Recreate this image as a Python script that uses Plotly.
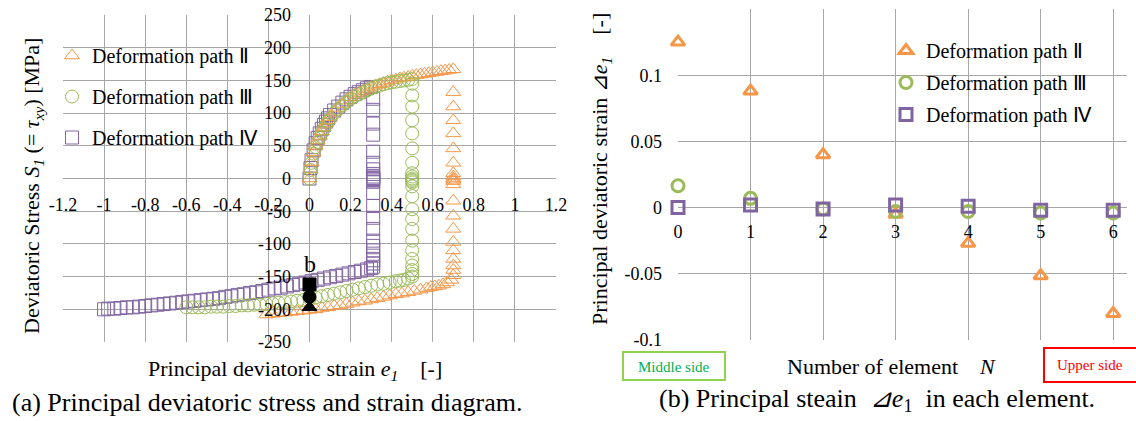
import plotly.graph_objects as go

ORANGE = "#F79646"
GREEN = "#9BBB59"
PURPLE = "#8064A2"
GRID = "#A6A6A6"
FONT = "Liberation Serif"

# ---------------- (a) stress-strain data ----------------
# Deformation path II
load_e2 = [0, 0.005, 0.01, 0.02, 0.03, 0.04, 0.05, 0.06, 0.07, 0.08, 0.09, 0.10, 0.12, 0.14, 0.16,
           0.18, 0.20, 0.22, 0.24, 0.26, 0.28, 0.30, 0.32, 0.34, 0.36, 0.38, 0.40, 0.42, 0.44, 0.46,
           0.48, 0.50, 0.52, 0.54, 0.56, 0.58, 0.60, 0.62, 0.64, 0.66, 0.68, 0.70]
load_s2 = [0, 14, 25, 40, 50, 58, 65, 72, 78, 84, 89, 94, 102, 108, 114,
           119, 124, 128, 131, 134, 137, 140, 142, 144, 146, 148, 150, 151, 153, 154,
           155, 157, 158, 159, 160, 161, 162, 163, 164, 165, 166, 167]
unload_e2 = [0.70] * 21
unload_s2 = [132, 110, 89, 69, 46, 24, 8, 3, 0, -2, -4, -9, -34, -57, -77, -97, -110, -123, -133, -140, -148]
rev_e2 = [0.69, 0.67, 0.65, 0.63, 0.61, 0.59, 0.57, 0.54, 0.51, 0.48, 0.45, 0.42, 0.39, 0.36, 0.33,
          0.30, 0.27, 0.24, 0.21, 0.18, 0.15, 0.12, 0.09, 0.06, 0.03, 0.0, -0.03, -0.06, -0.09, -0.12,
          -0.15, -0.18, -0.21]
rev_s2 = [-155, -159, -162, -164, -165, -166, -168, -170, -172, -174, -176, -177, -179, -181, -183,
          -185, -187, -188, -190, -192, -194, -195, -197, -198, -200, -201, -202, -203, -204, -205,
          -206, -207, -208]

# Deformation path III
load_e3 = [0, 0.005, 0.01, 0.02, 0.03, 0.04, 0.05, 0.06, 0.07, 0.08, 0.09, 0.10, 0.12, 0.14, 0.16,
           0.18, 0.20, 0.22, 0.24, 0.26, 0.28, 0.30, 0.32, 0.34, 0.36, 0.38, 0.40, 0.42, 0.44, 0.46,
           0.48, 0.50]
load_s3 = [0, 13, 24, 38, 48, 56, 63, 70, 76, 82, 87, 92, 100, 106, 112,
           117, 122, 126, 129, 132, 135, 138, 140, 142, 144, 146, 147, 148, 149, 150,
           151, 152]
unload_e3 = [0.50] * 25
unload_s3 = [145, 127, 110, 89, 69, 46, 24, 8, 3, 0, -2, -4, -6, -12, -27, -47, -62, -77, -95, -110,
             -123, -133, -140, -146, -150]
rev_e3 = [0.48, 0.46, 0.44, 0.42, 0.39, 0.36, 0.33, 0.30, 0.27, 0.24, 0.21, 0.18, 0.15, 0.12, 0.09,
          0.06, 0.03, 0.0, -0.03, -0.06, -0.09, -0.12, -0.15, -0.18, -0.21, -0.24, -0.27, -0.30, -0.33,
          -0.36, -0.39, -0.42, -0.45, -0.48, -0.51, -0.54, -0.57, -0.60]
rev_s3 = [-153, -155, -156, -157, -159, -161, -162, -164, -166, -168, -170, -172, -174, -176, -178,
          -180, -182, -184, -186, -187, -188, -189, -190, -191, -192, -193, -193, -194, -194,
          -195, -195, -196, -196, -196, -197, -197, -197, -197]

# Deformation path IV
load_e4 = [0, 0.005, 0.01, 0.02, 0.03, 0.04, 0.05, 0.06, 0.07, 0.08, 0.09, 0.10, 0.12, 0.14, 0.16,
           0.18, 0.20, 0.22, 0.24, 0.26, 0.28, 0.30]
load_s4 = [0, 16, 28, 43, 54, 62, 69, 76, 82, 87, 92, 97, 104, 110, 116,
           121, 125, 129, 132, 135, 138, 140]
unload_e4 = [0.31] * 25
unload_s4 = [122, 105, 84, 67, 41, 24, 14, 7, 3, 1, 0, -1, -3, -5, -22, -42, -60, -77, -95, -103,
             -110, -118, -125, -130, -135]
rev_e4 = [0.30, 0.28, 0.25, 0.22, 0.19, 0.16, 0.13, 0.10, 0.07, 0.04, 0.01, -0.02, -0.05, -0.08,
          -0.11, -0.14, -0.17, -0.20, -0.23, -0.26, -0.29, -0.32, -0.35, -0.38, -0.41, -0.44, -0.47,
          -0.50, -0.53, -0.56, -0.59, -0.62, -0.65, -0.68, -0.71, -0.74, -0.77, -0.80, -0.83, -0.86,
          -0.89, -0.92, -0.95, -0.98, -1.00]
rev_s4 = [-137, -139, -141, -143, -145, -147, -149, -151, -153, -155, -157, -159, -161, -163,
          -165, -167, -168, -170, -172, -174, -175, -177, -178, -180, -181, -183, -184,
          -185, -186, -187, -188, -189, -190, -191, -192, -193, -194, -195, -196, -197,
          -197, -198, -199, -199, -200]

# point "b" (filled black markers)
b_e = [0, 0, 0]
b_s = [-162, -181, -197]
b_symbols = ["square", "circle", "triangle-up"]

x_ticks_a = [-1.2, -1, -0.8, -0.6, -0.4, -0.2, 0, 0.2, 0.4, 0.6, 0.8, 1, 1.2]
x_ticktext_a = ["-1.2", "-1", "-0.8", "-0.6", "-0.4", "-0.2", "0", "0.2", "0.4", "0.6", "0.8", "1", "1.2"]
y_ticks_a = [250, 200, 150, 100, 50, 0, -50, -100, -150, -200, -250]
y_ticktext_a = ["250", "200", "150", "100", "50", "0", "-50", "-100", "-150", "-200", "-250"]

# ---------------- (b) strain per element ----------------
elements = [0, 1, 2, 3, 4, 5, 6]
de_II = [0.125, 0.088, 0.040, -0.005, -0.027, -0.0515, -0.080]
de_III = [0.0165, 0.007, -0.001, -0.003, -0.003, -0.004, -0.004]
de_IV = [0.0, 0.002, -0.001, 0.002, 0.001, -0.002, -0.002]
y_ticks_b = [0.15, 0.1, 0.05, 0, -0.05, -0.1]
y_ticktext_b = ["0.15", "0.1", "0.05", "0", "-0.05", "-0.1"]

names = ["Deformation path \u2161", "Deformation path \u2162", "Deformation path \u2163"]

fig = go.Figure()

paths = [
    (names[2], load_e4 + unload_e4 + rev_e4, load_s4 + unload_s4 + rev_s4, "square-open", PURPLE, 3),
    (names[0], load_e2 + unload_e2 + rev_e2, load_s2 + unload_s2 + rev_s2, "triangle-up-open", ORANGE, 1),
    (names[1], load_e3 + unload_e3 + rev_e3, load_s3 + unload_s3 + rev_s3, "circle-open", GREEN, 2),
]
for name, xs, ys, sym, col, rank in paths:
    fig.add_trace(go.Scatter(
        x=xs, y=ys, mode="markers", name=name, legend="legend", legendrank=rank,
        legendgroup="a" + str(rank),
        marker=dict(symbol=sym, size=13, color=col, line=dict(color=col, width=1)),
        xaxis="x", yaxis="y"))

fig.add_trace(go.Scatter(
    x=b_e, y=b_s, mode="markers", showlegend=False,
    marker=dict(symbol=b_symbols, size=13, color="black", line=dict(color="black", width=1)),
    xaxis="x", yaxis="y"))

right = [
    (names[0], de_II, "triangle-up-open", ORANGE, 1),
    (names[1], de_III, "circle-open", GREEN, 2),
    (names[2], de_IV, "square-open", PURPLE, 3),
]
for name, vals, sym, col, rank in right:
    fig.add_trace(go.Scatter(
        x=elements, y=vals, mode="markers", name=name, legend="legend2", legendrank=rank,
        legendgroup="b" + str(rank), cliponaxis=False,
        marker=dict(symbol=sym, size=12, color=col, line=dict(color=col, width=3)),
        xaxis="x2", yaxis="y2"))

W, H = 1136, 421
def px(x):
    return x / W
def py(y):
    return 1 - y / H

tickfont = dict(family=FONT, size=18, color="black")
common = dict(showgrid=True, gridcolor=GRID, gridwidth=1, zeroline=False, showline=False,
              ticks="", tickfont=tickfont, automargin=False)

fig.update_layout(
    width=W, height=H, margin=dict(l=0, r=0, t=0, b=0, autoexpand=False),
    paper_bgcolor="white", plot_bgcolor="white",
    font=dict(family=FONT, size=18, color="black"),
    xaxis=dict(domain=[px(63), px(556)], range=[-1.2, 1.2], anchor="free", position=py(179),
               tickvals=x_ticks_a, ticktext=x_ticktext_a, ticklabelstandoff=13, **common),
    yaxis=dict(domain=[py(342), py(15)], range=[-250, 250], anchor="free", position=px(310),
               tickvals=y_ticks_a, ticktext=y_ticktext_a, ticklabelstandoff=19, **common),
    xaxis2=dict(domain=[px(678), px(1127)], range=[0, 6.19], anchor="free", position=py(207),
                tickvals=elements, ticklabelstandoff=12, **common),
    yaxis2=dict(domain=[py(340), py(9)], range=[-0.1, 0.15], anchor="x2",
                tickvals=y_ticks_b, ticktext=y_ticktext_b, ticklabelstandoff=15, **common),
    legend=dict(x=px(52), y=py(36), xanchor="left", yanchor="top", bgcolor="rgba(0,0,0,0)",
                font=dict(family=FONT, size=20), tracegroupgap=12, traceorder="grouped",
                itemclick=False),
    legend2=dict(x=px(886), y=py(31), xanchor="left", yanchor="top", bgcolor="rgba(0,0,0,0)",
                 font=dict(family=FONT, size=20), tracegroupgap=3, traceorder="grouped",
                 itemclick=False),
    showlegend=True,
)

shapes = [
    dict(type="rect", xref="paper", yref="paper", x0=px(63), x1=px(262), y0=py(157), y1=py(33),
         fillcolor="white", line=dict(width=0), layer="between"),
    dict(type="rect", xref="paper", yref="paper", x0=px(897), x1=px(1095), y0=py(130), y1=py(32),
         fillcolor="white", line=dict(width=0), layer="between"),
    dict(type="rect", xref="paper", yref="paper", x0=px(623), x1=px(725), y0=py(380), y1=py(352),
         fillcolor="white", line=dict(color="#92D050", width=2)),
    dict(type="rect", xref="paper", yref="paper", x0=px(1044), x1=px(1145), y0=py(382), y1=py(348),
         fillcolor="white", line=dict(color="#FF0000", width=2)),
]
fig.update_layout(shapes=shapes)

ann = [
    dict(text="Deviatoric Stress <i>S<sub>1</sub></i> (= <i>\u03c4<sub>xy</sub></i>) [MPa]",
         x=px(33), y=py(186), textangle=-90, font=dict(size=22)),
    dict(text="Principal deviatoric strain <i>e<sub>1</sub></i>    [-]", x=px(295), y=py(370),
         font=dict(size=22)),
    dict(text="(a) Principal deviatoric stress and strain diagram.", x=px(267), y=py(402),
         font=dict(size=26)),
    dict(text="Principal deviatoric strain \u22bf<i>e<sub>1</sub></i>    [-]", x=px(601), y=py(169),
         textangle=-90, font=dict(size=22)),
    dict(text="Number of element    <i>N</i>", x=px(891), y=py(366), font=dict(size=22)),
    dict(text="(b) Principal steain  <i>\u22bfe</i><sub>1</sub>  in each element.", x=px(877), y=py(400),
         font=dict(size=26)),
    dict(text="Middle side", x=px(674), y=py(367), font=dict(size=15, color="#00B050")),
    dict(text="Upper side", x=px(1090), y=py(365), font=dict(size=15, color="#FF0000")),
]
annotations = []
for a in ann:
    d = dict(xref="paper", yref="paper", showarrow=False, xanchor="center", yanchor="middle")
    d.update(a)
    f = dict(family=FONT, color="black")
    f.update(a.get("font", {}))
    d["font"] = f
    annotations.append(d)
annotations.append(dict(text="b", x=0, y=-130, xref="x", yref="y", showarrow=False,
                        font=dict(family=FONT, size=24, color="black")))
fig.update_layout(annotations=annotations)

fig.write_html("out.html", config={"displayModeBar": False},
               post_script="document.body.style.margin='0';")
